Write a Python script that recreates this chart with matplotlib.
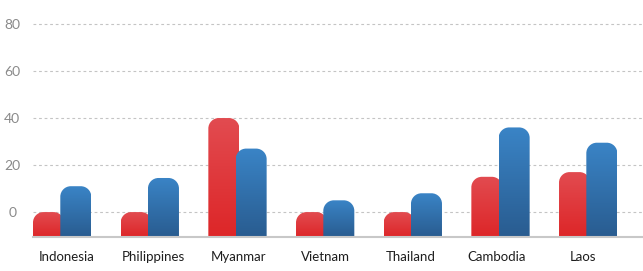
import numpy as np
import matplotlib.pyplot as plt
from matplotlib.path import Path
from matplotlib.patches import PathPatch
from matplotlib.colors import LinearSegmentedColormap

countries = ["Indonesia", "Philippines", "Myanmar", "Vietnam", "Thailand", "Cambodia", "Laos"]
red_vals = [0, 0, 40, 0, 0, 15, 17]
blue_vals = [11, 14.5, 27, 5, 8, 36, 29.5]
yticks = [0, 20, 40, 60, 80]

plt.rcParams['font.family'] = ['Lato', 'DejaVu Sans']

fig = plt.figure(figsize=(6.43, 2.71), dpi=100)
ax = fig.add_axes([33 / 643, (271 - 237) / 271, 610 / 643, 237 / 271])

ymin, ymax = -10.6, 90.2
xmax = -0.5 + 610 / 87.67
ax.set_xlim(-0.5, xmax)
ax.set_ylim(ymin, ymax)

# pixel -> data scales for round corners
px_x = (xmax + 0.5) / 610
px_y = (ymax - ymin) / 237
bw = 31 * px_x
r = 10.5

red_cmap = LinearSegmentedColormap.from_list("r", ["#dd2628", "#e24b50"])
blue_cmap = LinearSegmentedColormap.from_list("b", ["#295c90", "#3a84c6"])


def rounded_bar(x0, top, cmap, z):
    rx, ry = r * px_x, r * px_y
    ry = min(ry, top - ymin)
    k = 0.5523
    x1 = x0 + bw
    verts = [(x0, ymin), (x0, top - ry),
             (x0, top - ry + k * ry), (x0 + rx - k * rx, top), (x0 + rx, top),
             (x1 - rx, top),
             (x1 - rx + k * rx, top), (x1, top - ry + k * ry), (x1, top - ry),
             (x1, ymin), (x0, ymin)]
    codes = [Path.MOVETO, Path.LINETO,
             Path.CURVE4, Path.CURVE4, Path.CURVE4,
             Path.LINETO,
             Path.CURVE4, Path.CURVE4, Path.CURVE4,
             Path.LINETO, Path.CLOSEPOLY]
    patch = PathPatch(Path(verts, codes), facecolor="none", edgecolor="none")
    ax.add_patch(patch)
    grad = np.linspace(0, 1, 100).reshape(-1, 1)
    im = ax.imshow(grad, cmap=cmap, origin="lower", aspect="auto",
                   extent=[x0, x1, ymin, top], zorder=z, interpolation="bilinear")
    im.set_clip_path(patch)


for i in range(len(countries)):
    rounded_bar(i - 0.5, red_vals[i], red_cmap, 3)
    rounded_bar(i - 0.5 + 27.3 * px_x, blue_vals[i], blue_cmap, 4)

ax.set_xlim(-0.5, xmax)
ax.set_ylim(ymin, ymax)

for y in yticks:
    ax.axhline(y, color="#c4c4c4", lw=0.8, ls=(0, (2.5, 2.5)), zorder=1)
ax.axhline(ymin, color="#c8c8c8", lw=1.5, zorder=5, clip_on=False)

ax.set_yticks(yticks)
ax.set_yticklabels([str(v) for v in yticks], color="#8a8a8a", fontsize=10, ha="center")
ax.tick_params(axis="y", length=0, pad=15)

label_pos = [(67 + 86 * i - 33) * px_x - 0.5 for i in range(len(countries))]
ax.set_xticks(label_pos)
ax.set_xticklabels(countries, color="#1e1e1e", fontsize=9.5)
ax.tick_params(axis="x", length=0, pad=10)

for s in ax.spines.values():
    s.set_visible(False)

fig.savefig("out.png", dpi=100)
